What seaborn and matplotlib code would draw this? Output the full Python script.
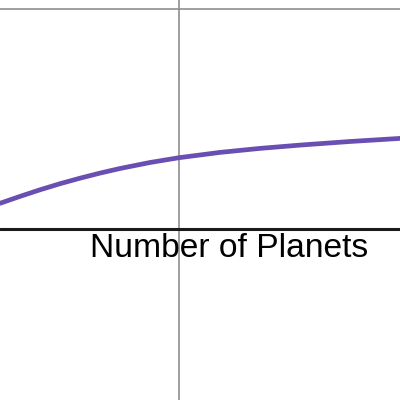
import matplotlib
matplotlib.use("Agg")
import matplotlib.pyplot as plt
import seaborn as sns
import pandas as pd

# Curve samples (x position, height above the x-axis)
curve_x = [0, 20, 40, 60, 80, 100, 120, 150, 179, 220, 260, 300, 350, 400]
curve_y = [25.7, 32.6, 39.2, 45.3, 50.8, 55.9, 60.5, 66.5, 71.3, 76.6, 80.6, 83.9, 87.5, 90.6]
label_text = "Number of Planets"

sns.set_theme(style="white")
plt.rcParams['font.family'] = ['Liberation Sans', 'DejaVu Sans']

fig = plt.figure(figsize=(4, 4), dpi=100)
ax = fig.add_axes([0, 0, 1, 1])

# grid lines
ax.axvline(179, color="#8c8c8c", lw=1.3, alpha=0.9, zorder=1)
ax.axhline(220, color="#8c8c8c", lw=1.3, alpha=0.9, zorder=1)
# x-axis
ax.axhline(0, color="#1a1a1a", lw=2.2, zorder=2)

df = pd.DataFrame({"x": curve_x, "y": curve_y})
sns.lineplot(data=df, x="x", y="y", ax=ax, color="#6a4fb3", lw=3.4, zorder=3,
             sort=True, estimator=None)

ax.text(229, -28, label_text, ha="center", va="baseline", fontsize=24.2, color="black", zorder=4)

ax.set_xlim(0, 400)
ax.set_ylim(-171, 229)
ax.set_xlabel("")
ax.set_ylabel("")
ax.set_xticks([])
ax.set_yticks([])
for s in ax.spines.values():
    s.set_visible(False)

fig.savefig("out.png", dpi=100)
